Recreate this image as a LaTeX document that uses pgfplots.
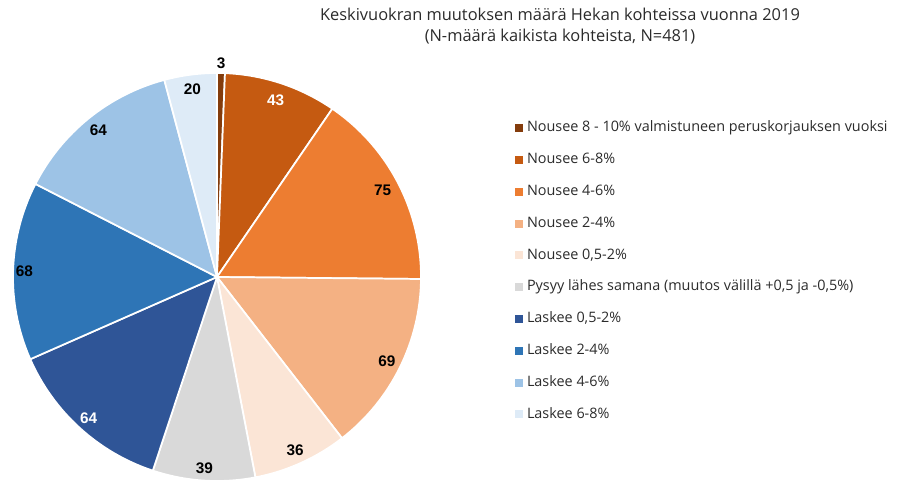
\documentclass[border=0pt]{standalone}
\usepackage{pgfplots}
\pgfplotsset{compat=1.18}
\usepackage{pgfplotstable}
\usepackage{fontspec}
\setmainfont{Open Sans}
\newfontfamily\labfont{Liberation Sans}

\definecolor{pc0}{HTML}{843C0C}
\definecolor{pc1}{HTML}{C55A11}
\definecolor{pc2}{HTML}{ED7D31}
\definecolor{pc3}{HTML}{F4B183}
\definecolor{pc4}{HTML}{FBE5D6}
\definecolor{pc5}{HTML}{D9D9D9}
\definecolor{pc6}{HTML}{2F5597}
\definecolor{pc7}{HTML}{2E75B6}
\definecolor{pc8}{HTML}{9DC3E6}
\definecolor{pc9}{HTML}{DEEBF7}
\definecolor{txt}{HTML}{2B2B2B}

% one row per slice: count n, colour index, white label (1/0), label radius factor
\pgfplotstableread{
x y n idx tw lr
0 0 3 0 0 1.05
0 0 43 1 1 0.915
0 0 75 2 0 0.915
0 0 69 3 0 0.93
0 0 36 4 0 0.93
0 0 39 5 0 0.94
0 0 64 6 1 0.935
0 0 68 7 0 0.945
0 0 64 8 0 0.925
0 0 20 9 0 0.93
}\piedata
\pgfplotstablecreatecol[create col/expr accum={\pgfmathaccuma+\thisrow{n}}{0}]{cum}\piedata

\begin{document}
\begin{tikzpicture}
\begin{axis}[
  at={(162.75pt,154.5pt)}, anchor=center,
  scale only axis, width=306pt, height=306pt,
  xmin=-1, xmax=1, ymin=-1, ymax=1,
  hide axis, clip=false,
  legend cell align=left,
  legend style={at={(axis description cs:1.2304,0.88)}, anchor=north west,
    draw=none, fill=none, inner sep=0pt, outer sep=0pt,
    row sep=14.35pt, column sep=3pt,
    font=\fontsize{10.8}{12}\selectfont, text=txt,
    nodes={inner sep=0pt, text height=7.5pt, text depth=2pt}},
  legend image code/.code={\fill[#1, draw=none] (0pt,-3pt) rectangle (6pt,3pt);},
]
\addplot[forget plot, scatter, only marks, mark=*,
  point meta=\thisrow{n},
  visualization depends on={\thisrow{cum} \as \pcum},
  visualization depends on={\thisrow{n} \as \pn},
  visualization depends on={\thisrow{lr} \as \plr},
  visualization depends on={\thisrow{idx} \as \pidx},
  visualization depends on={\thisrow{tw} \as \ptw},
  scatter/@pre marker code/.code={%
    \pgfmathsetmacro\sa{90-(\pcum-\pn)/481*360}%
    \pgfmathsetmacro\ea{90-\pcum/481*360}%
    \pgfmathsetmacro\ma{(\sa+\ea)/2}%
    \pgfmathtruncatemacro\ci{\pidx}%
    \pgfmathtruncatemacro\cw{\ptw}%
    \pgfmathtruncatemacro\lab{\pn}%
    \ifnum\cw=1 \def\tcol{white}\else\def\tcol{black}\fi
    \filldraw[fill=pc\ci, draw=white, line width=1.3pt, line join=round]
      (0pt,0pt) -- (\sa:153pt) arc[start angle=\sa, end angle=\ea, radius=153pt] -- cycle;
    \node[font=\labfont\bfseries\fontsize{11.5}{13}\selectfont, text=\tcol, inner sep=0pt]
      at (\ma:\plr*153pt) {\lab};
    \scope[opacity=0]
  },
  scatter/@post marker code/.code={\endscope},
] table[x=x, y=y] {\piedata};
\addlegendimage{fill=pc0}\addlegendentry{Nousee 8 - 10\% valmistuneen peruskorjauksen vuoksi}
\addlegendimage{fill=pc1}\addlegendentry{Nousee 6-8\%}
\addlegendimage{fill=pc2}\addlegendentry{Nousee 4-6\%}
\addlegendimage{fill=pc3}\addlegendentry{Nousee 2-4\%}
\addlegendimage{fill=pc4}\addlegendentry{Nousee 0,5-2\%}
\addlegendimage{fill=pc5}\addlegendentry{Pysyy lähes samana (muutos välillä +0,5 ja -0,5\%)}
\addlegendimage{fill=pc6}\addlegendentry{Laskee 0,5-2\%}
\addlegendimage{fill=pc7}\addlegendentry{Laskee 2-4\%}
\addlegendimage{fill=pc8}\addlegendentry{Laskee 4-6\%}
\addlegendimage{fill=pc9}\addlegendentry{Laskee 6-8\%}
\end{axis}
\node[anchor=base, text=txt, font=\fontsize{12.3}{14}\selectfont, inner sep=0pt] at (420pt,346.7pt)
  {Keskivuokran muutoksen määrä Hekan kohteissa vuonna 2019};
\node[anchor=base, text=txt, font=\fontsize{12.3}{14}\selectfont, inner sep=0pt] at (420pt,331pt)
  {(N-määrä kaikista kohteista, N=481)};
\pgfresetboundingbox
\useasboundingbox (0pt,0pt) rectangle (675.75pt,362.25pt);
\end{tikzpicture}
\end{document}
